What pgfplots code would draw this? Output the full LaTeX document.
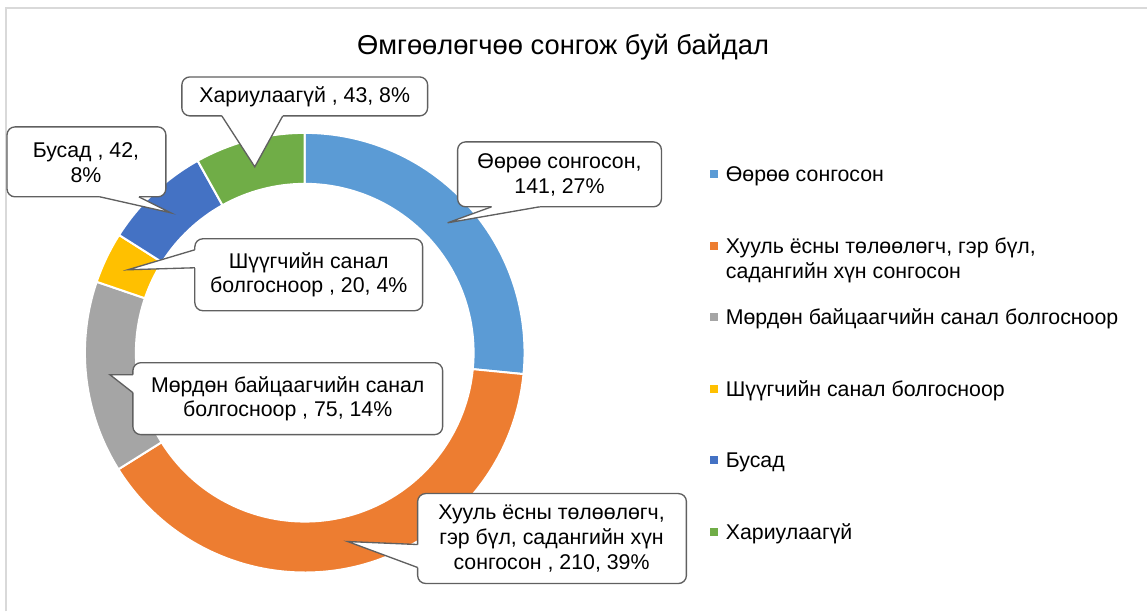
\documentclass[border=0pt]{standalone}
\usepackage{fontspec}
\setmainfont{Liberation Sans}
\usepackage{pgfplots}
\pgfplotsset{compat=1.18}

\definecolor{cA}{HTML}{5B9BD5}
\definecolor{cB}{HTML}{ED7D31}
\definecolor{cC}{HTML}{A5A5A5}
\definecolor{cD}{HTML}{FFC000}
\definecolor{cE}{HTML}{4472C4}
\definecolor{cF}{HTML}{70AD47}
\definecolor{cline}{HTML}{606060}
\definecolor{frame}{HTML}{D9D9D9}

\tikzset{
  co/.style={fill=white, draw=cline, line width=1pt, rounded corners=6pt},
  lbl/.style={align=center, font=\fontsize{16}{18.5}\selectfont, inner sep=0pt},
}

\begin{document}
\begin{tikzpicture}
\begin{axis}[
    width=861pt, height=459pt, scale only axis,
    xmin=0, xmax=1148, ymin=0, ymax=612, y dir=reverse,
    hide axis, clip=false,
    legend style={at={(axis cs:711,166)}, anchor=north west, draw=none, fill=none,
        inner sep=0pt, outer sep=0pt, row sep=41.7pt, column sep=6pt,
        font=\fontsize{16}{18.5}\selectfont,
        nodes={inner sep=0pt, text height=12pt, text depth=0pt}},
    legend cell align=left,
    legend image code/.code={\fill[#1] (0pt,-2.6pt) rectangle (5.2pt,2.6pt);},
]
% frame of the chart area
\draw[frame, line width=1.5pt] (axis cs:6,612) -- (axis cs:6,8.5) -- (axis cs:1148,8.5);
\path (axis cs:0,0) rectangle (axis cs:1148,612);

% doughnut: counts per category, total 531, clockwise from the top
\def\cum{0}
\foreach \v/\col in {141/cA,210/cB,75/cC,20/cD,42/cE,43/cF}{
  \pgfmathsetmacro\aone{90-(360/531)*\cum}
  \pgfmathsetmacro\atwo{90-(360/531)*(\cum+\v)}
  \pgfmathsetmacro\xo{305+220*cos(\aone)}
  \pgfmathsetmacro\yo{353-220*sin(\aone)}
  \pgfmathsetmacro\xin{305+169*cos(\atwo)}
  \pgfmathsetmacro\yin{353-169*sin(\atwo)}
  \edef\tmp{\noexpand\fill[\col, draw=white, line width=1.5pt]
    (axis cs:\xo,\yo) arc[start angle=\aone, end angle=\atwo, radius=165pt]
    -- (axis cs:\xin,\yin) arc[start angle=\atwo, end angle=\aone, radius=126.75pt] -- cycle;}
  \tmp
  \pgfmathsetmacro\newcum{\cum+\v}
  \xdef\cum{\newcum}
}

% legend
\addlegendimage{cA}\addlegendentry{Өөрөө сонгосон}
\addlegendimage{cB}\addlegendentry{\rlap{\smash{\raisebox{-18.5pt}{садангийн хүн сонгосон}}}Хууль ёсны төлөөлөгч, гэр бүл,}
\addlegendimage{cC}\addlegendentry{Мөрдөн байцаагчийн санал болгосноор}
\addlegendimage{cD}\addlegendentry{Шүүгчийн санал болгосноор}
\addlegendimage{cE}\addlegendentry{Бусад}
\addlegendimage{cF}\addlegendentry{Хариулаагүй}

% title
\node[anchor=base, font=\fontsize{20.5}{24}\selectfont] at (axis cs:563.5,55) {Өмгөөлөгчөө сонгож буй байдал};

% callouts
% Хариулаагүй
\draw[co] (axis cs:182,77) rectangle (axis cs:428,116);
\fill[white] (axis cs:222,113) -- (axis cs:222,116) -- (axis cs:255,167) -- (axis cs:283,116) -- (axis cs:283,113) -- cycle;
\draw[cline, line width=1pt] (axis cs:222,116) -- (axis cs:255,167) -- (axis cs:283,116);
\node[lbl] at (axis cs:305,97) {Хариулаагүй , 43, 8\%};
% Бусад
\draw[co] (axis cs:7,127) rectangle (axis cs:166,197);
\fill[white] (axis cs:100,194) -- (axis cs:100,197) -- (axis cs:171,213) -- (axis cs:139,197) -- (axis cs:139,194) -- cycle;
\draw[cline, line width=1pt] (axis cs:100,197) -- (axis cs:171,213) -- (axis cs:139,197);
\node[lbl] at (axis cs:86,163) {Бусад , 42,\\8\%};
% Шүүгчийн
\draw[co] (axis cs:195,239) rectangle (axis cs:423,311);
\fill[white] (axis cs:198,250) -- (axis cs:195,250) -- (axis cs:128,270) -- (axis cs:195,268) -- (axis cs:198,268) -- cycle;
\draw[cline, line width=1pt] (axis cs:195,250) -- (axis cs:128,270) -- (axis cs:195,268);
\node[lbl] at (axis cs:309,275) {Шүүгчийн санал\\болгосноор , 20, 4\%};
% Мөрдөн
\draw[co] (axis cs:133,363) rectangle (axis cs:443,435);
\fill[white] (axis cs:136,375) -- (axis cs:133,375) -- (axis cs:110,375) -- (axis cs:133,393) -- (axis cs:136,393) -- cycle;
\draw[cline, line width=1pt] (axis cs:133,375) -- (axis cs:110,375) -- (axis cs:133,393);
\node[lbl] at (axis cs:288,399) {Мөрдөн байцаагчийн санал\\болгосноор , 75, 14\%};
% Хууль
\draw[co] (axis cs:418,494) rectangle (axis cs:687,584);
\fill[white] (axis cs:421,545) -- (axis cs:418,545) -- (axis cs:348,542) -- (axis cs:418,568) -- (axis cs:421,568) -- cycle;
\draw[cline, line width=1pt] (axis cs:418,545) -- (axis cs:348,542) -- (axis cs:418,568);
\node[lbl] at (axis cs:552,539) {Хууль ёсны төлөөлөгч,\\гэр бүл, садангийн хүн\\сонгосон , 210, 39\%};
% Өөрөө
\draw[co] (axis cs:458,142) rectangle (axis cs:662,207);
\fill[white] (axis cs:492,204) -- (axis cs:492,207) -- (axis cs:448,223) -- (axis cs:540,207) -- (axis cs:540,204) -- cycle;
\draw[cline, line width=1pt] (axis cs:492,207) -- (axis cs:448,223) -- (axis cs:540,207);
\node[lbl] at (axis cs:560,175) {Өөрөө сонгосон,\\141, 27\%};
\end{axis}
\end{tikzpicture}
\end{document}
